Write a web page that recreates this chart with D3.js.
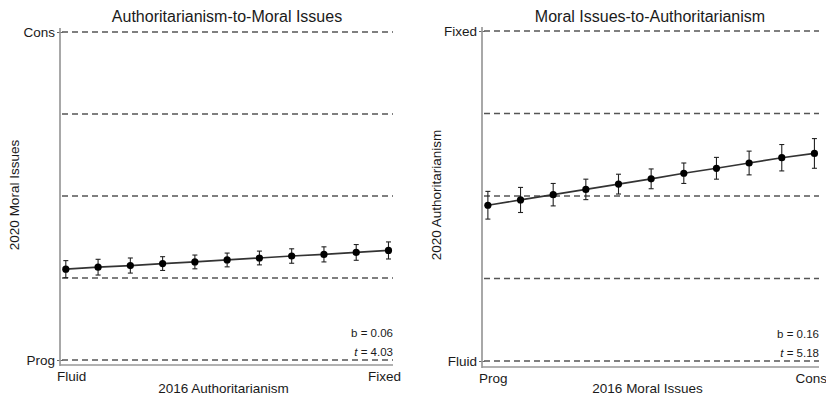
<!DOCTYPE html>
<html>
<head>
<meta charset="utf-8">
<script src="https://cdn.jsdelivr.net/npm/d3@7"></script>
<style>
  body { margin: 0; background: #fff; }
  text { font-family: "Liberation Sans", Arial, sans-serif; fill: #1a1a1a; }
</style>
</head>
<body>
<div id="chart"></div>
<script>
// x steps for both panels (0 = low end, 1 = high end of the 2016 measure)
var steps = [0, 0.1, 0.2, 0.3, 0.4, 0.5, 0.6, 0.7, 0.8, 0.9, 1]
var gridLevels = [0, 0.25, 0.5, 0.75, 1]

// panel 1: Authoritarianism -> Moral Issues
var authToMoral = [0.277, 0.283, 0.288, 0.294, 0.299, 0.305, 0.311, 0.317, 0.322, 0.328, 0.334]
var authToMoralErr = [0.026, 0.024, 0.023, 0.021, 0.021, 0.021, 0.021, 0.022, 0.023, 0.024, 0.026]

// panel 2: Moral Issues -> Authoritarianism
var moralToAuth = [0.472, 0.488, 0.504, 0.520, 0.536, 0.552, 0.569, 0.584, 0.600, 0.616, 0.629]
var moralToAuthErr = [0.042, 0.038, 0.034, 0.031, 0.030, 0.030, 0.031, 0.033, 0.036, 0.040, 0.045]

var panels = [
  { title: "Authoritarianism-to-Moral Issues", xTitle: "2016 Authoritarianism", yTitle: "2020 Moral Issues",
    xLabels: ["Fluid", "Fixed"], yLabels: ["Prog", "Cons"], values: authToMoral, errs: authToMoralErr,
    b: "0.06", t: "4.03",
    left: 60, right: 393, top: 32, bottom: 360, axisY: 365, titleX: 227, yTitleX: 14 },
  { title: "Moral Issues-to-Authoritarianism", xTitle: "2016 Moral Issues", yTitle: "2020 Authoritarianism",
    xLabels: ["Prog", "Cons"], yLabels: ["Fluid", "Fixed"], values: moralToAuth, errs: moralToAuthErr,
    b: "0.16", t: "5.18",
    left: 482, right: 819, top: 31, bottom: 361, axisY: 367, titleX: 650, yTitleX: 436 }
]

var svg = d3.select("#chart").append("svg")
    .attr("width", 826)
    .attr("height", 398)

panels.forEach(drawPanel)

function drawPanel(p) {
  var g = svg.append("g")

  var x = d3.scaleLinear()
      .domain([-0.018, 1.014])
      .range([p.left, p.right])

  var y = d3.scaleLinear()
      .domain([0, 1])
      .range([p.bottom, p.top])

  // dashed reference lines
  g.selectAll(".grid")
    .data(gridLevels)
    .enter().append("line")
      .attr("class", "grid")
      .attr("x1", p.left + 2)
      .attr("x2", p.right)
      .attr("y1", d => y(d))
      .attr("y2", d => y(d))
      .attr("stroke", "#555")
      .attr("stroke-width", 1.3)
      .attr("stroke-dasharray", "6,4")

  // y axis: only end labels, small crossing ticks
  var yAxis = d3.axisLeft(y)
      .tickValues([0, 1])
      .tickFormat((d, i) => p.yLabels[i])
      .tickSize(3)
      .tickPadding(2)

  var ya = g.append("g")
      .attr("transform", "translate(" + p.left + ",0)")
      .call(yAxis)
  ya.select(".domain").remove()
  ya.selectAll(".tick line").attr("x2", -3).attr("x1", 3).attr("stroke", "#666")
  ya.selectAll(".tick text")
      .attr("font-size", "13.5px")
      .attr("font-family", "Liberation Sans, Arial, sans-serif")
      .attr("fill", "#1a1a1a")

  g.append("line")
      .attr("x1", p.left).attr("x2", p.left)
      .attr("y1", p.top - 4).attr("y2", p.axisY + 1)
      .attr("stroke", "#999")
      .attr("stroke-width", 1.7)

  g.append("line")
      .attr("x1", p.left).attr("x2", p.right)
      .attr("y1", p.axisY).attr("y2", p.axisY)
      .attr("stroke", "#999")
      .attr("stroke-width", 1.7)

  // x end labels
  g.append("text")
      .attr("x", p.left - 3)
      .attr("y", p.axisY + 16)
      .attr("font-size", "13.5px")
      .style("text-anchor", "start")
      .text(p.xLabels[0])

  g.append("text")
      .attr("x", p.right + 8)
      .attr("y", p.axisY + 16)
      .attr("font-size", "13.5px")
      .style("text-anchor", "end")
      .text(p.xLabels[1])

  g.append("text")
      .attr("x", (p.left + p.right) / 2 - 3)
      .attr("y", 393)
      .attr("font-size", "13.5px")
      .style("text-anchor", "middle")
      .text(p.xTitle)

  g.append("text")
      .attr("transform", "translate(" + p.yTitleX + "," + 195 + ") rotate(-90)")
      .attr("dy", "0.35em")
      .attr("font-size", "13.5px")
      .style("text-anchor", "middle")
      .text(p.yTitle)

  g.append("text")
      .attr("x", p.titleX)
      .attr("y", 22)
      .attr("font-size", "16px")
      .style("text-anchor", "middle")
      .text(p.title)

  // stats
  g.append("text")
      .attr("x", p.right)
      .attr("y", p.bottom - 23)
      .attr("font-size", "11.5px")
      .style("text-anchor", "end")
      .text("b = " + p.b)

  var tt = g.append("text")
      .attr("x", p.right)
      .attr("y", p.bottom - 4)
      .attr("font-size", "11.5px")
      .style("text-anchor", "end")
  tt.append("tspan").attr("font-style", "italic").text("t")
  tt.append("tspan").text(" = " + p.t)

  var data = steps.map((s, i) => ({ x: s, y: p.values[i], e: p.errs[i] }))

  // error bars
  var eb = g.selectAll(".err")
    .data(data)
    .enter().append("g")
      .attr("class", "err")
      .attr("stroke", "#222")
      .attr("stroke-width", 1.1)
  eb.append("line")
      .attr("x1", d => x(d.x)).attr("x2", d => x(d.x))
      .attr("y1", d => y(d.y - d.e)).attr("y2", d => y(d.y + d.e))
  eb.append("line")
      .attr("x1", d => x(d.x) - 2.5).attr("x2", d => x(d.x) + 2.5)
      .attr("y1", d => y(d.y - d.e)).attr("y2", d => y(d.y - d.e))
  eb.append("line")
      .attr("x1", d => x(d.x) - 2.5).attr("x2", d => x(d.x) + 2.5)
      .attr("y1", d => y(d.y + d.e)).attr("y2", d => y(d.y + d.e))

  var line = d3.line()
      .x(d => x(d.x))
      .y(d => y(d.y))

  g.append("path")
      .attr("d", line(data))
      .attr("fill", "none")
      .attr("stroke", "#333")
      .attr("stroke-width", 1.7)

  g.selectAll(".pt")
    .data(data)
    .enter().append("circle")
      .attr("class", "pt")
      .attr("cx", d => x(d.x))
      .attr("cy", d => y(d.y))
      .attr("r", 3.6)
      .attr("fill", "#000")
}
</script>
</body>
</html>
